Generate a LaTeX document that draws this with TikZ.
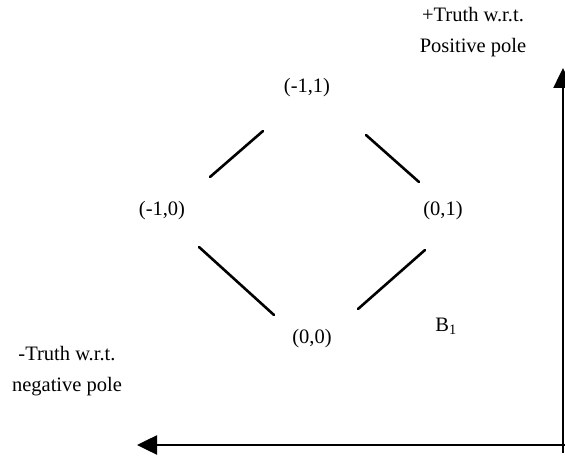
\documentclass[tikz,border=0pt]{standalone}
\usepackage{fontspec}
\setmainfont{Liberation Serif}
\usetikzlibrary{arrows.meta}
\tikzset{
  lbl/.style={inner sep=0pt, font=\fontsize{20.5}{31}\selectfont, align=center},
  seg/.style={line width=2.6pt, line cap=round},
  axis/.style={line width=2.5pt, -{Triangle[length=20pt,width=19pt]}}
}
\begin{document}
\begin{tikzpicture}[x=1pt,y=1pt]
\useasboundingbox (0,0) rectangle (565,458);
% labels
\node[lbl] (n11) at (307,370) {(-1,1)};
\node[lbl] (n10) at (162,247) {(-1,0)};
\node[lbl] (n01) at (443,247) {(0,1)};
\node[lbl] (n00) at (312,119) {(0,0)};
\node[lbl] (b1) at (446,132) {B\textsubscript{1}};
\node[lbl] (pos) at (473,426) {+Truth w.r.t.\\Positive pole};
\node[lbl] (neg) at (67,87) {-Truth w.r.t.\\negative pole};
% diamond segments
\coordinate (s1a) at (263,327); \coordinate (s1b) at (210,281);
\coordinate (s2a) at (366,323); \coordinate (s2b) at (419,276);
\coordinate (s3a) at (199,211); \coordinate (s3b) at (274,143);
\coordinate (s4a) at (425,208); \coordinate (s4b) at (358,149);
\draw[seg] (s1a) -- (s1b);
\draw[seg] (s2a) -- (s2b);
\draw[seg] (s3a) -- (s3b);
\draw[seg] (s4a) -- (s4b);
% axes
\coordinate (vstart) at (563,5);
\coordinate (vtip) at (563,390);
\coordinate (hstart) at (566,13);
\coordinate (htip) at (137,13);
\draw[axis] (vstart) -- (vtip);
\draw[axis] (hstart) -- (htip);
\end{tikzpicture}
\end{document}
